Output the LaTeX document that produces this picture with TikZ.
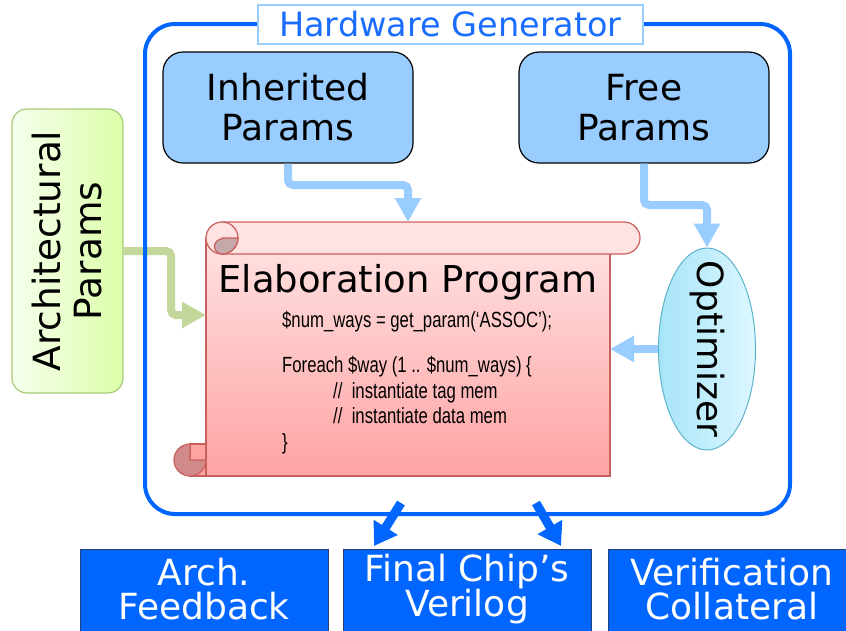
\documentclass[tikz,border=0pt]{standalone}
\usepackage{fontspec}
\setmainfont{DejaVu Sans}
\newfontfamily\codefont[FakeStretch=0.76]{Liberation Sans}
\usetikzlibrary{arrows.meta,shapes.geometric}

\definecolor{genblue}{HTML}{0066FF}
\definecolor{titleblue}{HTML}{1A6DFF}
\definecolor{parblue}{HTML}{99CCFF}
\definecolor{archL}{HTML}{F6FFEE}
\definecolor{archR}{HTML}{DCFFA8}
\definecolor{archedge}{HTML}{A9C97A}
\definecolor{archarrow}{HTML}{C4D79B}
\definecolor{optL}{HTML}{A6E4F8}
\definecolor{optR}{HTML}{DDF7FF}
\definecolor{optedge}{HTML}{5BB3CC}
\definecolor{scrollTop}{HTML}{FFE2E2}
\definecolor{scrollBot}{HTML}{FFA3A3}
\definecolor{scrolledge}{HTML}{C9605E}
\definecolor{curldark}{HTML}{D08A8A}
\definecolor{curlgrey}{HTML}{C6A7AA}
\definecolor{outedge}{HTML}{23407A}

\tikzset{
  parbox/.style={draw=black, line width=1.2, fill=parblue, rounded corners=20,
    minimum width=250, minimum height=111, align=center, inner sep=0,
    font=\fontsize{36}{40}\selectfont},
  archbox/.style={draw=archedge, line width=1.2, left color=archL, right color=archR,
    rounded corners=15, minimum width=111, minimum height=284, inner sep=0},
  optshape/.style={ellipse, draw=optedge, line width=1, left color=optL, right color=optR,
    minimum width=97, minimum height=202, inner sep=0},
  outbox/.style={draw=outedge, line width=1, fill=genblue, minimum width=248,
    minimum height=100, inner sep=0, anchor=north west},
  outtext/.style={text=white, align=center, font=\fontsize{36}{34.5}\selectfont},
  codeline/.style={anchor=base west, inner sep=0, font=\codefont\fontsize{22}{24}\selectfont},
  scrollsheet/.style={draw=scrolledge, line width=1.2},
  lbarrow/.style={draw=parblue, line width=8, rounded corners=5,
    -{Triangle[width=25pt,length=24pt]}},
  garrow/.style={draw=archarrow, line width=8, rounded corners=5,
    -{Triangle[width=25pt,length=24pt]}},
  barrow/.style={draw=genblue, line width=9, -{Triangle[width=27pt,length=22pt]}},
}

\begin{document}
\begin{tikzpicture}[x=1pt,y=-1pt]
  \useasboundingbox (0,0) rectangle (846,630);
  \clip (0,0) rectangle (846,630);

  % parameter sources
  \node[parbox] (inh) at (288,107.5) {Inherited\\Params};
  \node[parbox] (free) at (644,107.5) {Free\\Params};
  \node[archbox] (arch) at (67.5,251) {};
  \node[rotate=90, align=center, font=\fontsize{37.5}{41}\selectfont] (archlabel) at (arch) {Architectural\\Params};

  % scroll holding the elaboration program
  \path[scrollsheet, top color=scrollTop, bottom color=scrollBot] (206,238) rectangle (610,476);
  \filldraw[scrollsheet, fill=scrollBot] (190,444) rectangle (206,476);
  \filldraw[scrollsheet, fill=curldark] (190,460) -- (206,460) arc(0:270:16) -- cycle;
  \filldraw[scrollsheet, fill=scrollTop] (222,222) -- (624,222) arc(-90:90:16) -- (222,254) -- cycle;
  \filldraw[scrollsheet, fill=scrollTop] (222,238) circle[radius=16];
  \filldraw[scrollsheet, fill=curlgrey] (222,238) -- (238,238) arc(0:90:16) arc(90:270:7.5) -- cycle;

  \node[anchor=base, inner sep=0, font=\fontsize{37}{40}\selectfont] (elab) at (408,292) {Elaboration Program};
  \node[codeline] (c1) at (282,327) {\$num\_ways = get\_param(‘ASSOC’);};
  \node[codeline] (c2) at (282,372) {Foreach \$way (1 .. \$num\_ways) \{};
  \node[codeline] (c3) at (333,398) {//\ \ instantiate tag mem};
  \node[codeline] (c4) at (333,423) {//\ \ instantiate data mem};
  \node[codeline] (c5) at (282,449) {\}};

  \coordinate (scrollIn) at (408,222);
  \coordinate (scrollL) at (206,315);
  \coordinate (scrollR) at (610,349);

  % optimizer
  \node[optshape] (opt) at (707,349) {};
  \node[rotate=-90, font=\fontsize{36}{40}\selectfont] (optlabel) at (opt) {Optimizer};

  % outputs
  \node[outbox] (fb) at (80,549) {};
  \node[outtext] (fbt) at (204,589) {Arch.\\Feedback};
  \node[outbox] (vl) at (343,549) {};
  \node[outtext] (vlt) at (467,589) {Final Chip’s\\Verilog};
  \node[outbox] (vc) at (608,549) {};
  \node[outtext] (vct) at (732,589) {Verification\\Collateral};

  % parameter flow
  \draw[lbarrow] (inh.south) -- (288,185) -- (408,185) -- (scrollIn);
  \draw[lbarrow] (free.south) -- (644,205) -- (707,205) -- (opt.north);
  \draw[lbarrow] (opt.west) -- (scrollR);
  \draw[garrow] (arch.east) -- (171,251) -- (171,315) -- (scrollL);

  % generated results
  \coordinate (fromL) at (401,503);
  \coordinate (toL) at (374,546);
  \coordinate (fromR) at (536,503);
  \coordinate (toR) at (561,546);
  \draw[barrow] (fromL) -- (toL);
  \draw[barrow] (fromR) -- (toR);

  % generator frame and title
  \draw[genblue, line width=4, rounded corners=30] (145,24) rectangle (790,514);
  \node[draw=parblue, line width=1.5, fill=white, minimum width=385, minimum height=39,
        inner sep=0, text=titleblue, font=\fontsize{33.5}{36}\selectfont] (title) at (450.5,24.5) {Hardware Generator};
\end{tikzpicture}
\end{document}
